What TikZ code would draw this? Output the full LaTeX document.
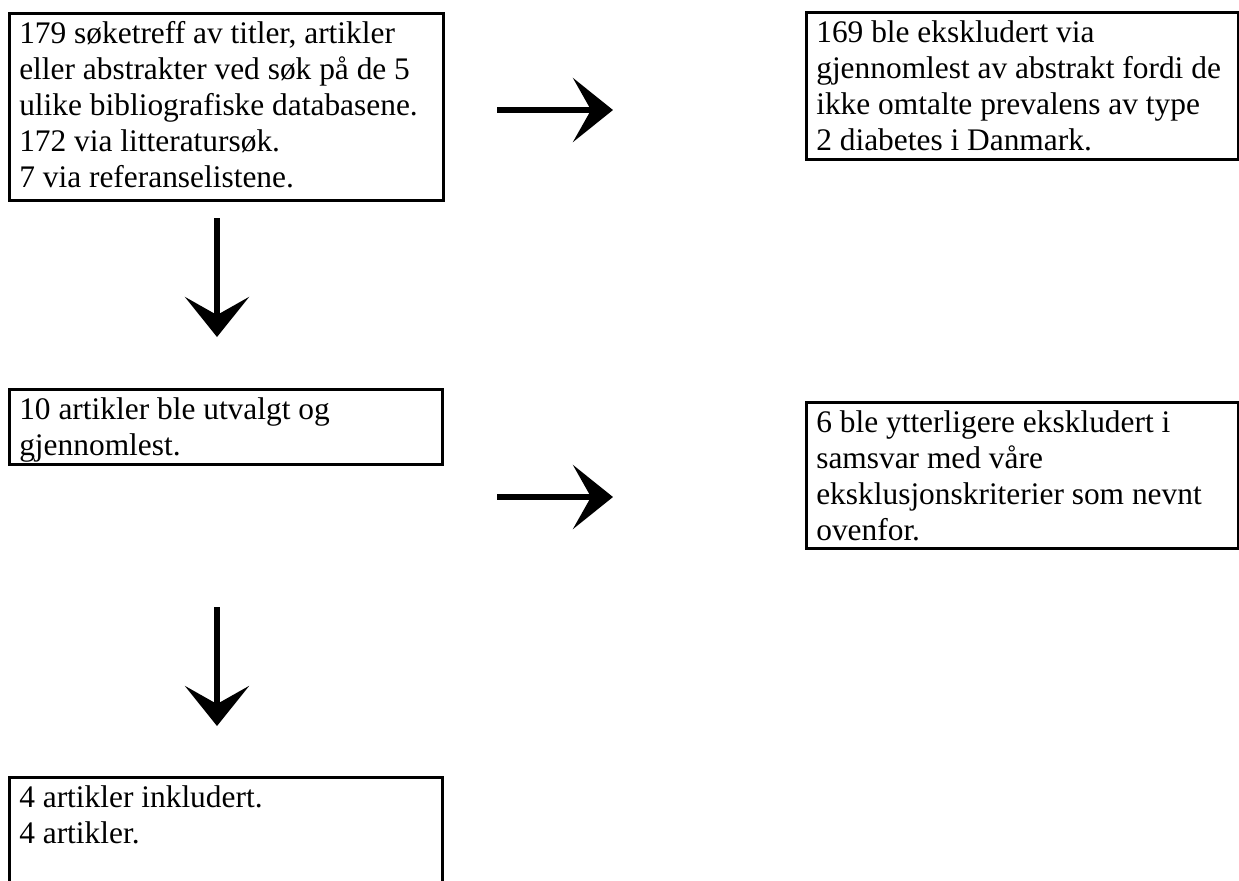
\documentclass[tikz,border=0pt]{standalone}
\usepackage{fontspec}
\setmainfont{Liberation Serif}
\usetikzlibrary{arrows.meta}

\tikzset{
    flowbox/.style={draw, line width=1.3pt, inner xsep=5pt, inner ysep=0pt,
        anchor=north west, font=\fontsize{15.7}{18}\selectfont},
    flowarrow/.style={line width=3pt,
        -{Stealth[length=20pt, width=32pt, inset=9pt]}}
}
\newcommand{\boxtext}[3]{\parbox[t][#2][t]{#1}{\raggedright\rule{0pt}{15pt}#3}}

\begin{document}
\begin{tikzpicture}[x=0.5pt,y=-0.5pt]
\useasboundingbox (0,0) rectangle (1239,880);

% boxes
\node[flowbox] (sok) at (8,12) {\boxtext{207pt}{93.5pt}{179 søketreff av titler, artikler\\eller abstrakter ved søk på de 5\\ulike bibliografiske databasene.\\172 via litteratursøk.\\7 via referanselistene.}};
\node[flowbox] (eks1) at (805,11) {\boxtext{206pt}{73.5pt}{169 ble ekskludert via\\gjennomlest av abstrakt fordi de\\ikke omtalte prevalens av type\\2 diabetes i Danmark.}};
\node[flowbox] (utv) at (8,388) {\boxtext{206.5pt}{37.5pt}{10 artikler ble utvalgt og\\gjennomlest.}};
\node[flowbox] (eks2) at (805,401) {\boxtext{206pt}{73pt}{6 ble ytterligere ekskludert i\\samsvar med våre\\eksklusjonskriterier som nevnt\\ovenfor.}};
\node[flowbox] (inkl) at (8,776) {\boxtext{206.5pt}{54.5pt}{4 artikler inkludert.\\4 artikler.}};

% arrows
\coordinate (h1a) at (497,110);
\coordinate (h1b) at (613,110);
\coordinate (h2a) at (497,497);
\coordinate (h2b) at (613,497);
\coordinate (n1a) at (217,218);
\coordinate (n1b) at (217,337);
\coordinate (n2a) at (217,607);
\coordinate (n2b) at (217,726);

\draw[flowarrow] (h1a) -- (h1b);
\draw[flowarrow] (h2a) -- (h2b);
\draw[flowarrow] (n1a) -- (n1b);
\draw[flowarrow] (n2a) -- (n2b);

\end{tikzpicture}
\end{document}
